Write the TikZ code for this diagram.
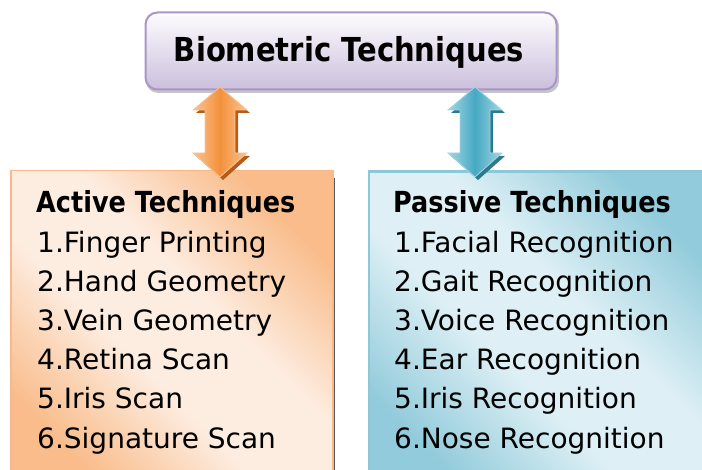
\documentclass[tikz,border=0pt]{standalone}
\usepackage{fontspec}
\setmainfont{DejaVu Sans}
\newfontfamily\hdfont[FakeStretch=0.88]{DejaVu Sans}
\definecolor{topborder}{HTML}{A995C9}
\definecolor{toplight}{HTML}{FDFCFE}
\definecolor{topdark}{HTML}{CBBFDC}
\definecolor{ordark}{HTML}{F9BC8A}
\definecolor{orlight}{HTML}{FDEDE1}
\definecolor{orborder}{HTML}{F8B889}
\definecolor{bldark}{HTML}{92CBDB}
\definecolor{bllight}{HTML}{DEF0F5}
\definecolor{blborder}{HTML}{8CC8D8}
\definecolor{oarlight}{HTML}{FAC392}
\definecolor{oarmid}{HTML}{F4913C}
\definecolor{oarshadow}{HTML}{B45C18}
\definecolor{barlight}{HTML}{A2D6E3}
\definecolor{barmid}{HTML}{47A9C3}
\definecolor{barshadow}{HTML}{2C7A8C}
\pgfdeclareverticalshading{orshade}{100bp}{color(0bp)=(ordark); color(25bp)=(ordark);
  color(43bp)=(orlight); color(57bp)=(orlight); color(75bp)=(ordark); color(100bp)=(ordark)}
\pgfdeclareverticalshading{blshade}{100bp}{color(0bp)=(bldark); color(25bp)=(bldark);
  color(43bp)=(bllight); color(57bp)=(bllight); color(75bp)=(bldark); color(100bp)=(bldark)}
\newcommand{\biarrow}[5]{%
  \fill[#4] ($(#1)+(3,3)$) -- ++(27,23) -- ++(-12,0) -- ++(0,43) -- ++(12,0)
     -- ++(-27,24) -- ++(-27,-24) -- ++(12,0) -- ++(0,-43) -- ++(-12,0) -- cycle;
  \shade[left color=#2, right color=#2, middle color=#3, draw=#2, line width=0.8pt]
     (#1) -- ++(27,23) -- ++(-12,0) -- ++(0,43) -- ++(12,0)
     -- ++(-27,24) -- ++(-27,-24) -- ++(12,0) -- ++(0,-43) -- ++(-12,0) -- cycle;
}
\usetikzlibrary{calc}
\begin{document}
\begin{tikzpicture}[x=1pt,y=-1pt,
  item/.style={anchor=base west, inner sep=0pt, font=\fontsize{28}{34}\selectfont},
  head/.style={anchor=base west, inner sep=0pt, font=\hdfont\bfseries\fontsize{29}{34}\selectfont},
  listbox/.style={inner sep=0pt, line width=1.5pt},
]
\path[use as bounding box, clip] (0,0) rectangle (702,470);
% top box
\fill[gray!45, rounded corners=12pt] (146,14) rectangle (559,93);
\node[draw=topborder, line width=2pt, rounded corners=12pt, top color=toplight,
  bottom color=topdark, minimum width=411pt, minimum height=77pt, inner sep=0pt]
  (top) at (351,51) {};
\node[anchor=base, inner sep=0pt, font=\hdfont\bfseries\fontsize{33}{40}\selectfont]
  (title) at (349,62) {Biometric Techniques};
% left box
\fill[gray!70!black] (332,178) rectangle (334.5,470);
\node[listbox, draw=orborder, shade, shading=orshade, shading angle=-45,
  minimum width=322pt, minimum height=320pt, anchor=north west]
  (active) at (10,170) {};
% right box
\node[listbox, draw=blborder, line width=2.5pt, shade, shading=blshade, shading angle=-45,
  minimum width=345pt, minimum height=320pt, anchor=north west]
  (passive) at (367.5,170.5) {};
% texts left
\node[head] (a0) at (36,213) {Active Techniques};
\node[item] (a1) at (37,253) {1.Finger Printing};
\node[item] (a2) at (37,292) {2.Hand Geometry};
\node[item] (a3) at (37,331) {3.Vein Geometry};
\node[item] (a4) at (37,370) {4.Retina Scan};
\node[item] (a5) at (37,409) {5.Iris Scan};
\node[item] (a6) at (37,448) {6.Signature Scan};
% texts right
\node[head] (p0) at (393,213) {Passive Techniques};
\node[item] (p1) at (394,253) {1.Facial Recognition};
\node[item] (p2) at (394,292) {2.Gait Recognition};
\node[item] (p3) at (394,331) {3.Voice Recognition};
\node[item] (p4) at (394,370) {4.Ear Recognition};
\node[item] (p5) at (394,409) {5.Iris Recognition};
\node[item] (p6) at (394,448) {6.Nose Recognition};
% arrows
\coordinate (oa) at (220,87);
\coordinate (ba) at (475,87);
\biarrow{oa}{oarlight}{oarmid}{oarshadow}{orangearrow}
\biarrow{ba}{barlight}{barmid}{barshadow}{bluearrow}
\end{tikzpicture}
\end{document}
